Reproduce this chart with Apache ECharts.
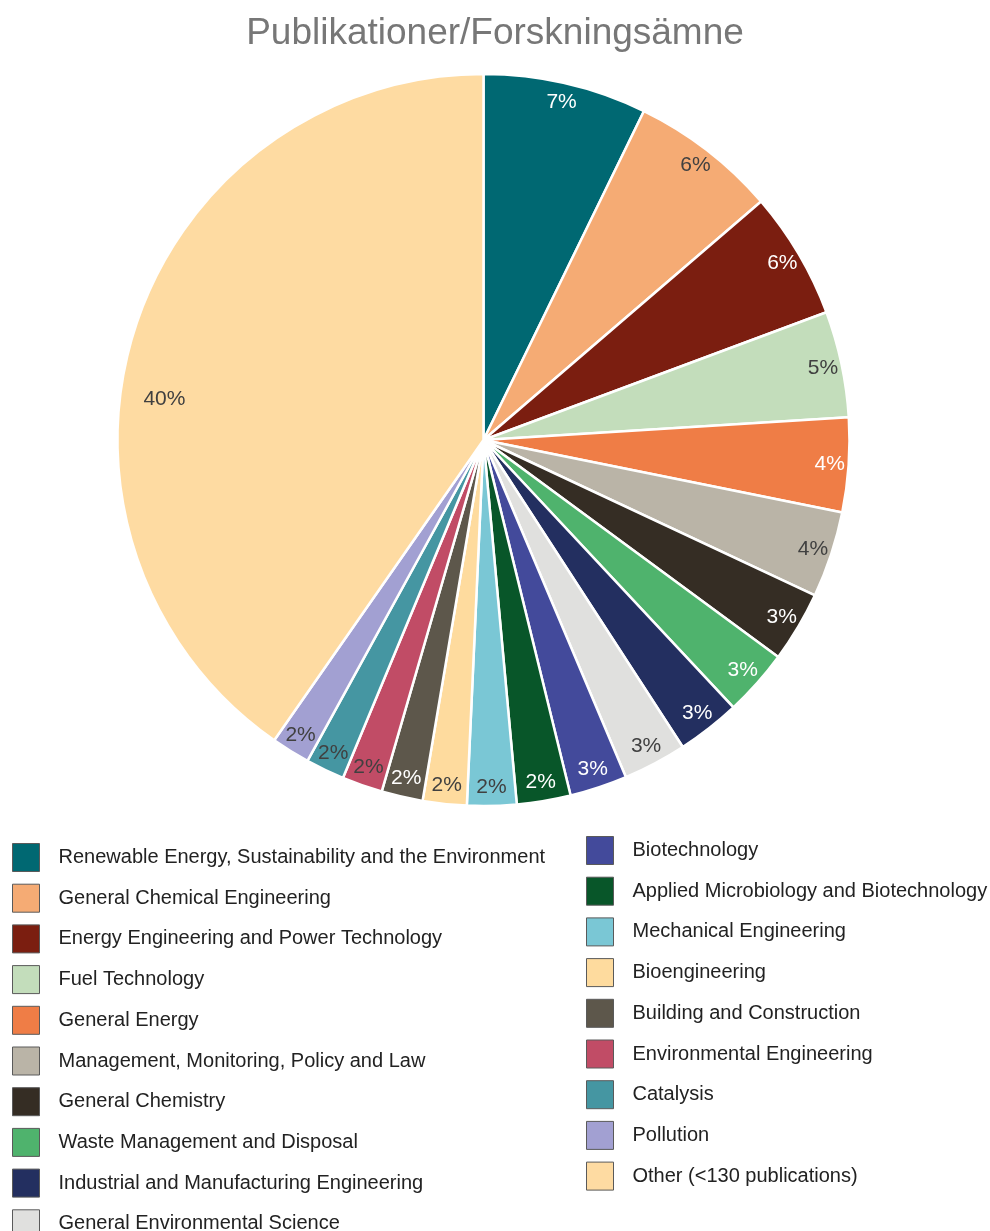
<!DOCTYPE html>
<html>
<head>
<meta charset="utf-8">
<script src="https://cdn.jsdelivr.net/npm/echarts@6/dist/echarts.min.js"></script>
<style>
  html, body { margin: 0; padding: 0; background: #fff; }
  #chart { width: 990px; height: 1231px; }
</style>
</head>
<body>
<div id="chart"></div>
<script>
// Publications per research subject (counts)
const subjects = [
  'Renewable Energy, Sustainability and the Environment',
  'General Chemical Engineering',
  'Energy Engineering and Power Technology',
  'Fuel Technology',
  'General Energy',
  'Management, Monitoring, Policy and Law',
  'General Chemistry',
  'Waste Management and Disposal',
  'Industrial and Manufacturing Engineering',
  'General Environmental Science',
  'Biotechnology',
  'Applied Microbiology and Biotechnology',
  'Mechanical Engineering',
  'Bioengineering',
  'Building and Construction',
  'Environmental Engineering',
  'Catalysis',
  'Pollution',
  'Other (<130 publications)'
];
const publications = [578, 518, 450, 375, 333, 304, 250, 235, 224, 224, 203, 190, 174, 155, 146, 143, 137, 136, 3225];

const sliceColors = [
  '#006872', '#F5AB74', '#7B1E10', '#C3DDBB', '#EF7D46', '#BAB4A7', '#352D24',
  '#4FB36D', '#232F60', '#E0E0DE', '#434A9B', '#085629', '#7AC7D5', '#FEDB9E',
  '#5D574B', '#C14C66', '#4596A2', '#A2A0D2', '#FEDBA2'
];
// percentage labels drawn in white on the darker slices
const whiteLabel = [true, false, true, false, true, false, true, true, true, false,
  true, true, false, false, true, false, false, false, false];

const total = publications.reduce((a, b) => a + b, 0);
const FONT = 'Liberation Sans, Arial, Helvetica, sans-serif';
const CX = 483.5, CY = 440, R = 366;

const pieData = subjects.map((name, i) => ({
  name,
  value: publications[i],
  itemStyle: { color: sliceColors[i] }
}));

const labelData = subjects.map((name, i) => {
  const item = {
    name,
    value: publications[i],
    label: { color: whiteLabel[i] ? '#ffffff' : '#404040' }
  };
  if (i === subjects.length - 1) item.label.offset = [12, 63];
  return item;
});

const chart = echarts.init(document.getElementById('chart'), null, { renderer: 'canvas' });

const legendBase = {
  type: 'plain',
  orient: 'vertical',
  itemWidth: 27,
  itemHeight: 28,
  itemGap: 11.7,
  padding: 0,
  height: 500,
  icon: 'rect',
  selectedMode: false,
  itemStyle: { borderColor: '#5a5a5a', borderWidth: 1 },
  textStyle: {
    fontFamily: FONT, fontSize: 20, lineHeight: 22, color: '#222',
    padding: [0, 0, 0, 14]
  }
};

chart.setOption({
  backgroundColor: '#ffffff',
  animation: false,
  title: {
    text: 'Publikationer/Forskningsämne',
    left: 'center',
    top: 10,
    textStyle: { fontFamily: FONT, fontSize: 37, fontWeight: 'normal', color: '#777777' }
  },
  legend: [
    Object.assign({}, legendBase, { left: 12, top: 843, data: subjects.slice(0, 10) }),
    Object.assign({}, legendBase, { left: 586, top: 836, data: subjects.slice(10) })
  ],
  series: [
    {
      type: 'pie',
      center: [CX, CY],
      radius: [0, R],
      startAngle: 90,
      clockwise: true,
      avoidLabelOverlap: false,
      label: { show: false },
      labelLine: { show: false },
      itemStyle: { borderColor: '#ffffff', borderWidth: 2.5 },
      emphasis: { disabled: true },
      data: pieData
    },
    {
      // transparent ring that carries the percentage labels near the rim
      type: 'pie',
      center: [CX, CY],
      radius: [322, R],
      startAngle: 90,
      clockwise: true,
      silent: true,
      avoidLabelOverlap: false,
      itemStyle: { color: 'rgba(0,0,0,0)', borderWidth: 0 },
      emphasis: { disabled: true },
      labelLine: { show: false },
      label: {
        show: true,
        position: 'inside',
        fontFamily: FONT,
        fontSize: 21,
        formatter: p => Math.round(p.value / total * 100) + '%'
      },
      data: labelData
    }
  ]
});
</script>
</body>
</html>
